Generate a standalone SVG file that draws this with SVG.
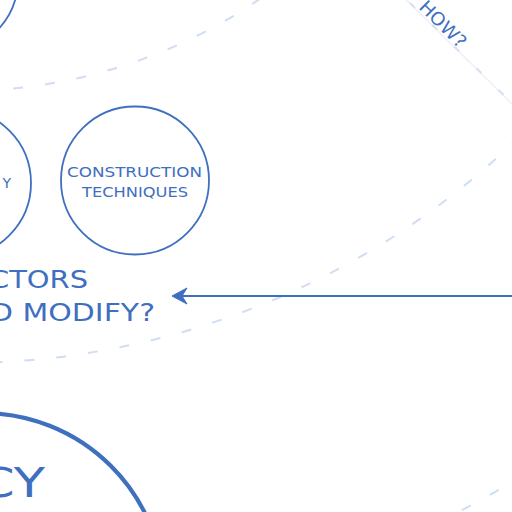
<svg xmlns="http://www.w3.org/2000/svg" width="512" height="512" viewBox="0 0 512 512">
<style>
.bg{fill:#ffffff}
.ring{fill:none;stroke:#cfdef2;stroke-width:2;stroke-dasharray:10 22}
.node{fill:#ffffff;stroke:#3f6fbf;stroke-width:1.8}
.big{fill:none;stroke:#3f6fbf;stroke-width:4.2}
.t{fill:#3f6fbf;font-family:"DejaVu Sans","Liberation Sans",sans-serif}
.radial{stroke:#edf2f9;stroke-width:1.6;fill:none}
.radialdash{stroke:#d3e1f3;stroke-width:2;fill:none;stroke-dasharray:7 24}
.arrow{stroke:#3f6fbf;stroke-width:2;fill:none}
</style>
<rect class="bg" x="0" y="0" width="512" height="512"/>
<g id="rings">
<circle class="ring" cx="-38" cy="-437" r="528"/>
<circle class="ring" cx="-38" cy="-437" r="800"/>
<circle class="ring" cx="-38" cy="-437" r="1071"/>
<line class="radial" x1="-38" y1="-437" x2="560" y2="151"/>
<line class="radialdash" x1="410" y1="3" x2="520" y2="111"/>
</g>
<g id="node-topleft">
<circle class="node" cx="-56" cy="-21" r="74"/>
</g>
<g id="node-left">
<circle class="node" cx="-43" cy="183" r="74"/>
<text class="t" x="11" y="188" font-size="14" text-anchor="end">Y</text>
</g>
<g id="node-construction">
<circle class="node" cx="135" cy="180.5" r="74"/>
<text class="t" x="67" y="177" font-size="14" textLength="135" lengthAdjust="spacingAndGlyphs">CONSTRUCTION</text>
<text class="t" x="82" y="197" font-size="14" textLength="106" lengthAdjust="spacingAndGlyphs">TECHNIQUES</text>
</g>
<g id="node-big">
<circle class="big" cx="-17" cy="594" r="181"/>
<text class="t" x="-21" y="497" font-size="41" textLength="66" lengthAdjust="spacingAndGlyphs">CY</text>
</g>
<g id="label-question">
<text class="t" x="-11" y="288" font-size="24" textLength="99" lengthAdjust="spacingAndGlyphs">CTORS</text>
<text class="t" x="-10" y="321" font-size="24" textLength="165" lengthAdjust="spacingAndGlyphs">D MODIFY?</text>
</g>
<g id="label-how">
<text class="t" font-size="18" transform="translate(418,8) rotate(45)" textLength="58" lengthAdjust="spacingAndGlyphs">HOW?</text>
</g>
<g id="connectors">
<line class="arrow" x1="512" y1="296" x2="180" y2="296"/>
<path d="M172,296 L187,288 L182,296 L187,304 Z" fill="#3f6fbf" stroke="#3f6fbf" stroke-width="1" stroke-linejoin="round"/>
</g>
</svg>
